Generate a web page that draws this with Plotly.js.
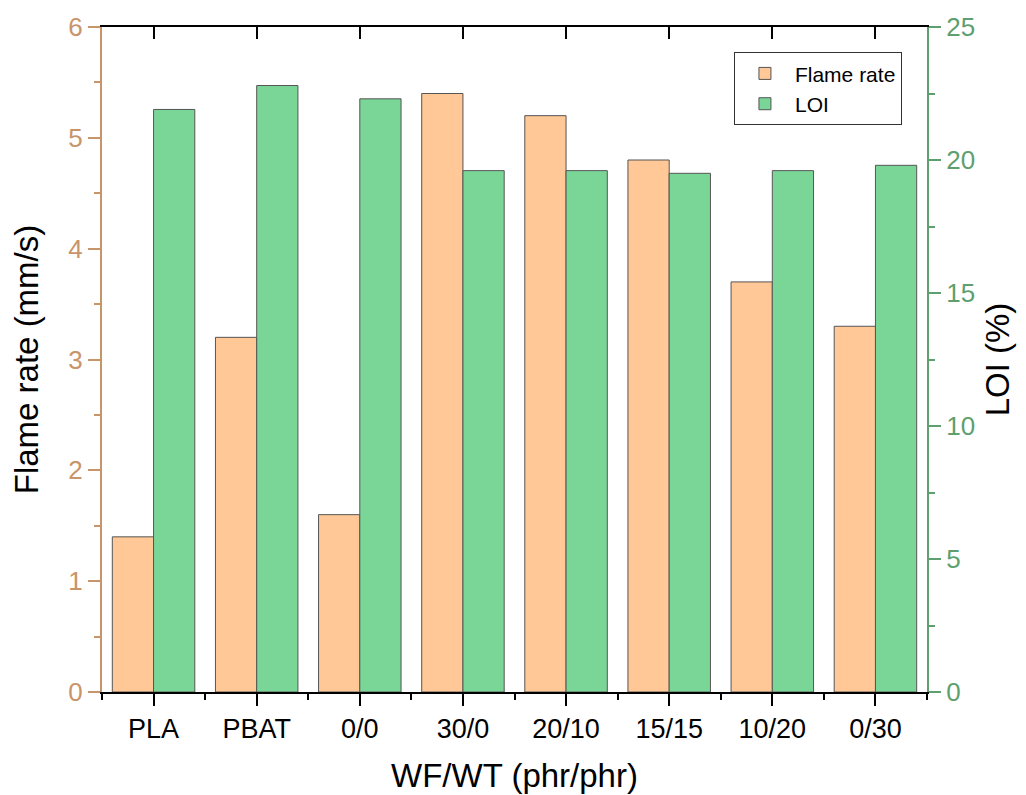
<!DOCTYPE html>
<html>
<head>
<meta charset="utf-8">
<script src="https://cdn.plot.ly/plotly-3.0.1.min.js"></script>
<style>html,body{margin:0;padding:0;background:#fff;}#chart{width:1026px;height:795px;}</style>
</head>
<body>
<div id="chart"></div>
<script>
const categories = ["PLA", "PBAT", "0/0", "30/0", "20/10", "15/15", "10/20", "0/30"];
const flameRate = [1.4, 3.2, 1.6, 5.4, 5.2, 4.8, 3.7, 3.3];
const loi = [21.9, 22.8, 22.3, 19.6, 19.6, 19.5, 19.6, 19.8];

const idx = categories.map((c, i) => i);
const FONT = "Liberation Sans, Arial, sans-serif";
const TAN = "#C8946A";
const GREEN = "#5E9F70";

const traces = [
  {
    type: "bar", name: "Flame rate", x: idx, y: flameRate,
    xaxis: "x", yaxis: "y", width: 0.4, offset: -0.4,
    marker: {color: "#FFC896", line: {color: "#555555", width: 1}}
  },
  {
    type: "bar", name: "LOI", x: idx, y: loi,
    xaxis: "x", yaxis: "y2", width: 0.4, offset: 0,
    marker: {color: "#7AD697", line: {color: "#555555", width: 1}}
  },
  {
    type: "scatter", x: [], y: [], xaxis: "x2", yaxis: "y",
    showlegend: false, hoverinfo: "skip"
  }
];

const layout = {
  width: 1026, height: 795,
  margin: {l: 102, r: 99, t: 27, b: 103},
  paper_bgcolor: "#fff", plot_bgcolor: "#fff",
  font: {family: FONT, color: "#000"},
  showlegend: true,
  legend: {
    x: 0.766, y: 0.962, xanchor: "left", yanchor: "top",
    bordercolor: "#333", borderwidth: 1, bgcolor: "#fff",
    font: {size: 21, family: FONT, color: "#000"},
    itemwidth: 50,
    tracegroupgap: 0
  },
  xaxis: {
    range: [-0.5, 7.5], tickmode: "array", tickvals: idx, ticktext: categories,
    showgrid: false, zeroline: false,
    showline: true, linecolor: "#000", linewidth: 2,
    ticks: "outside", ticklen: 12, tickwidth: 2, tickcolor: "#000",
    minor: {tickmode: "linear", tick0: 0.5, dtick: 1, ticks: "outside", ticklen: 6, tickwidth: 2, tickcolor: "#000", showgrid: false},
    tickfont: {size: 27, family: FONT, color: "#000"},
    title: {text: "WF/WT (phr/phr)", font: {size: 33, family: FONT, color: "#000"}, standoff: 20}
  },
  xaxis2: {
    overlaying: "x", side: "top", anchor: "y",
    range: [-0.5, 7.5], tickmode: "array", tickvals: idx,
    showticklabels: false, showgrid: false, zeroline: false,
    showline: true, linecolor: "#000", linewidth: 2,
    ticks: "inside", ticklen: 12, tickwidth: 2, tickcolor: "#000"
  },
  yaxis: {
    range: [0, 6], dtick: 1, tick0: 0,
    showgrid: false, zeroline: false,
    showline: true, linecolor: TAN, linewidth: 2,
    ticks: "outside", ticklen: 12, tickwidth: 2, tickcolor: TAN,
    minor: {dtick: 0.5, ticks: "outside", ticklen: 6, tickwidth: 2, tickcolor: TAN, showgrid: false},
    tickfont: {size: 26, family: FONT, color: TAN},
    title: {text: "Flame rate (mm/s)", font: {size: 33, family: FONT, color: "#000"}, standoff: 20}
  },
  yaxis2: {
    overlaying: "y", side: "right", anchor: "x",
    range: [0, 25], dtick: 5, tick0: 0,
    showgrid: false, zeroline: false,
    showline: true, linecolor: GREEN, linewidth: 2,
    ticks: "outside", ticklen: 12, tickwidth: 2, tickcolor: GREEN,
    minor: {dtick: 2.5, ticks: "outside", ticklen: 6, tickwidth: 2, tickcolor: GREEN, showgrid: false},
    tickfont: {size: 26, family: FONT, color: GREEN},
    title: {text: "LOI (%)", font: {size: 33, family: FONT, color: "#000"}, standoff: 12}
  }
};

Plotly.newPlot("chart", traces, layout, {displayModeBar: false, responsive: false});
</script>
</body>
</html>
